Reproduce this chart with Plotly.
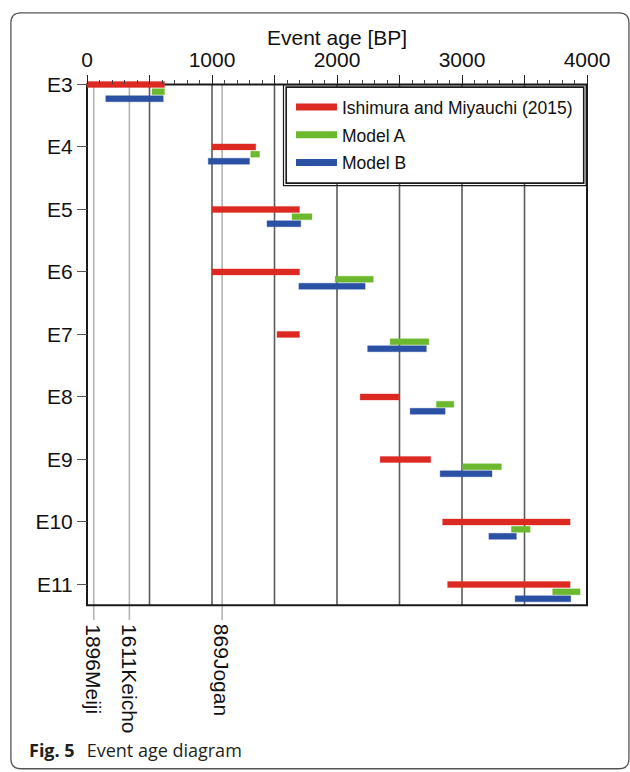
import plotly.graph_objects as go

# ---- data -----------------------------------------------------------------
events = ["E3", "E4", "E5", "E6", "E7", "E8", "E9", "E10", "E11"]
event_pos = [3, 4, 5, 6, 7, 8, 9, 10, 11]

# age ranges in years BP (start, end)
ishimura_start = [0, 1000, 1000, 1000, 1520, 2185, 2345, 2845, 2885]
ishimura_end = [620, 1350, 1700, 1700, 1700, 2495, 2750, 3865, 3865]
model_a_start = [520, 1310, 1640, 1985, 2425, 2795, 3005, 3395, 3725]
model_a_end = [620, 1380, 1800, 2290, 2735, 2935, 3315, 3545, 3945]
model_b_start = [150, 970, 1440, 1695, 2245, 2585, 2825, 3215, 3425]
model_b_end = [610, 1300, 1710, 2225, 2715, 2865, 3240, 3435, 3870]

# historical tsunamis (calendar year AD) marked on the age axis
historic_years = [1896, 1611, 869]
historic_names = ["Meiji", "Keicho", "Jogan"]
BP_REFERENCE_YEAR = 1950

age_ticks = [0, 500, 1000, 1500, 2000, 2500, 3000, 3500, 4000]
age_tick_text = ["0", "", "1000", "", "2000", "", "3000", "", "4000"]

series = [
    ("Ishimura and Miyauchi (2015)", ishimura_start, ishimura_end, "#dc2a22", "rgba(220,42,34,0.35)", 0.0),
    ("Model A", model_a_start, model_a_end, "#6cb92f", "rgba(108,185,47,0.35)", 0.117),
    ("Model B", model_b_start, model_b_end, "#2a51a4", "rgba(42,81,164,0.35)", 0.229),
]

# ---- geometry -------------------------------------------------------------
W, H = 630, 772
X_RANGE = [-40, 4040]
Y_RANGE = [11.6, 2.85]          # reversed: first event at top
Y_FRAME_BOTTOM = 11.331
M_L, M_R, M_T, M_B = 81.7, 37.5, 74.9, 150.2
PW = W - M_L - M_R
PH = H - M_T - M_B
AXIS_FONT = "Liberation Sans, Arial"


def paper_x(px):
    return (px - M_L) / PW


def paper_y(py):
    return 1 - (py - M_T) / PH


fig = go.Figure()

for i, (name, start, end, color, edge, offset) in enumerate(series):
    fig.add_trace(go.Bar(
        orientation="h",
        y=[p + offset for p in event_pos],
        base=start,
        x=[e - s for s, e in zip(start, end)],
        width=0.096,
        marker=dict(color=color, line=dict(color=edge, width=1)),
        showlegend=False,
        hoverinfo="skip",
    ))
    # legend entry drawn as a thick line sample
    fig.add_trace(go.Scatter(
        x=[None], y=[None], mode="lines", name=name,
        legendgroup=f"g{i}",
        line=dict(color=color, width=7),
    ))

shapes = []
# vertical reference lines every 500 years
for v in range(500, 4000, 500):
    shapes.append(dict(type="line", xref="x", yref="y", x0=v, x1=v,
                       y0=event_pos[0], y1=Y_FRAME_BOTTOM,
                       line=dict(color="#5c5c5c", width=1.6), layer="below"))
# historical event lines
for yr in historic_years:
    bp = BP_REFERENCE_YEAR - yr
    shapes.append(dict(type="line", xref="x", yref="y", x0=bp, x1=bp,
                       y0=event_pos[0], y1=11.57,
                       line=dict(color="#b4b4b4", width=1.6), layer="below"))
# plot frame
shapes.append(dict(type="rect", xref="x", yref="y", x0=0, x1=4000,
                   y0=event_pos[0], y1=Y_FRAME_BOTTOM,
                   line=dict(color="#1a1a1a", width=2), layer="below"))
# legend box with double border
shapes.append(dict(type="rect", xref="paper", yref="paper",
                   x0=paper_x(286.2), x1=paper_x(584.2),
                   y0=paper_y(183.0), y1=paper_y(87.0),
                   fillcolor="white",
                   line=dict(color="#1a1a1a", width=1.6), layer="above"))
shapes.append(dict(type="rect", xref="paper", yref="paper",
                   x0=paper_x(283.5), x1=paper_x(586.6),
                   y0=paper_y(185.5), y1=paper_y(84.6),
                   line=dict(color="#1a1a1a", width=1.2), layer="above"))
# rounded figure border
x0, x1 = paper_x(10.5), paper_x(629.5)
y0, y1 = paper_y(768.5), paper_y(12.7)
rx, ry = 10 / PW, 10 / PH
border_path = (
    f"M {x0 + rx},{y1} L {x1 - rx},{y1} Q {x1},{y1} {x1},{y1 - ry} "
    f"L {x1},{y0 + ry} Q {x1},{y0} {x1 - rx},{y0} "
    f"L {x0 + rx},{y0} Q {x0},{y0} {x0},{y0 + ry} "
    f"L {x0},{y1 - ry} Q {x0},{y1} {x0 + rx},{y1} Z"
)
shapes.append(dict(type="path", xref="paper", yref="paper", path=border_path,
                   line=dict(color="#555555", width=1.3)))

annotations = []
# axis title above the age tick labels
annotations.append(dict(
    x=2000, y=paper_y(37.5), xref="x", yref="paper",
    xanchor="center", yanchor="middle", showarrow=False, borderpad=0,
    text="Event age [BP]",
    font=dict(family=AXIS_FONT, size=21, color="#111"),
))
for yr, nm in zip(historic_years, historic_names):
    annotations.append(dict(
        x=BP_REFERENCE_YEAR - yr, y=11.6, xref="x", yref="y",
        text=f"{yr}{nm}", textangle=90, showarrow=False,
        xanchor="center", yanchor="top",
        font=dict(family=AXIS_FONT, size=21, color="#111"),
    ))
annotations.append(dict(
    x=paper_x(26.5), y=paper_y(750), xref="paper", yref="paper",
    xanchor="left", yanchor="middle", showarrow=False,
    text="<b>Fig. 5</b>\u2002\u2009Event age diagram",
    font=dict(family="Open Sans", size=18, color="#231f20"),
))

fig.update_layout(
    width=W, height=H,
    margin=dict(l=M_L, r=M_R, t=M_T, b=M_B, autoexpand=False),
    paper_bgcolor="white", plot_bgcolor="white",
    barmode="overlay",
    font=dict(family=AXIS_FONT, size=21, color="#111"),
    shapes=shapes,
    annotations=annotations,
    legend=dict(
        x=paper_x(291), y=paper_y(89), xanchor="left", yanchor="top",
        bgcolor="rgba(0,0,0,0)", borderwidth=0,
        itemwidth=41, tracegroupgap=2,
        font=dict(family=AXIS_FONT, size=17.5, color="#111"),
    ),
    xaxis=dict(
        range=X_RANGE, side="top", anchor="free",
        position=(Y_RANGE[0] - event_pos[0]) / (Y_RANGE[0] - Y_RANGE[1]),
        tickvals=age_ticks, ticktext=age_tick_text,
        ticks="outside", ticklen=9, tickwidth=1.4, tickcolor="#222",
        minor=dict(dtick=100, tick0=0, ticks="outside", ticklen=4,
                   tickwidth=1, tickcolor="#444", showgrid=False),
        showgrid=False, zeroline=False, showline=False,
        tickfont=dict(size=21),
    ),
    yaxis=dict(
        range=Y_RANGE, anchor="free",
        position=(0 - X_RANGE[0]) / (X_RANGE[1] - X_RANGE[0]),
        tickvals=event_pos, ticktext=events,
        ticks="outside", ticklen=10, tickwidth=1.4, tickcolor="#555",
        showgrid=False, zeroline=False, showline=False,
        tickfont=dict(size=21),
    ),
)

fig.write_html("out.html")
